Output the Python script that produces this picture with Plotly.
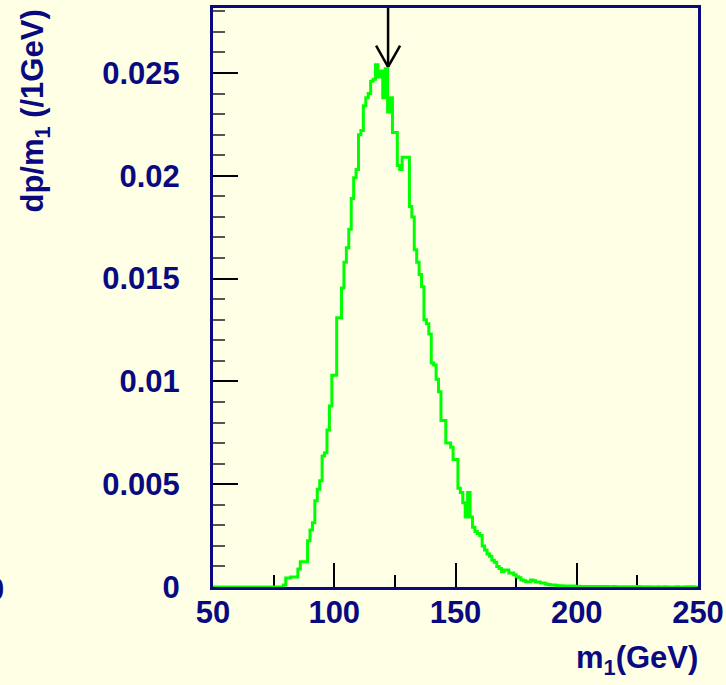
import plotly.graph_objects as go

# Mass histogram, 1 GeV bins from 50 to 250 GeV
bin_lo = 50
bin_width = 1
dp_dm = [
    # 50-59
    0, 0, 0, 0, 0, 0, 0, 0, 0, 0,
    # 60-69
    0, 0, 0, 0, 0, 0, 0, 0, 0, 0,
    # 70-79
    0, 0, 0, 0, 0, 0, 0, 0, 0, 0.0001,
    # 80-89
    0.00044, 0.00044, 0.00049, 0.00049, 0.00049, 0.00088, 0.00123, 0.00123, 0.00123, 0.00225,
    # 90-99
    0.00277, 0.00313, 0.0042, 0.00475, 0.00517, 0.00637, 0.00653, 0.00764, 0.0088, 0.0103,
    # 100-109
    0.0103, 0.0131, 0.0131, 0.01454, 0.0158, 0.0165, 0.0174, 0.0189, 0.0199, 0.0203,
    # 110-119
    0.0220, 0.0222, 0.0234, 0.0238, 0.0240, 0.0246, 0.0247, 0.0254, 0.0248, 0.0251,
    # 120-129
    0.0238, 0.0252, 0.0231, 0.0238, 0.0221, 0.0221, 0.0205, 0.0203, 0.0209, 0.0209,
    # 130-139
    0.0209, 0.0185, 0.0180, 0.0164, 0.0158, 0.0152, 0.0146, 0.0130, 0.0128, 0.0123,
    # 140-149
    0.0109, 0.0108, 0.0101, 0.0095, 0.0081, 0.0081, 0.0070, 0.0070, 0.0068, 0.0062,
    # 150-159
    0.0062, 0.0048, 0.0046, 0.0041, 0.0034, 0.0046, 0.0034, 0.0029, 0.0027, 0.0026,
    # 160-169
    0.0025, 0.0020, 0.0018, 0.0016, 0.0015, 0.0013, 0.0012, 0.0010, 0.0009, 0.00075,
    # 170-179
    0.00083, 0.00083, 0.00068, 0.00068, 0.0006, 0.0005, 0.00045, 0.00034, 0.0003, 0.00026,
    # 180-189
    0.00026, 0.00034, 0.0003, 0.00024, 0.00024, 0.0002, 0.0002, 0.00015, 0.00012, 0.0001,
    # 190-199
    0.0001, 0.00008, 0.00005, 0.00006, 0.00005, 0.00004, 0.00005, 0.00004, 0.00005, 0.00003,
    # 200-209
    0.00004, 0.00003, 0.00003, 0.00002, 0.00003, 0.00002, 0.00002, 0.00003, 0.00002, 0.00001,
    # 210-219
    0.00002, 0.00001, 0.00002, 0.00001, 0.00001, 0.00002, 0.00001, 0.00001, 0.00001, 0.00001,
    # 220-229
    0.00001, 0, 0.00001, 0.00001, 0, 0.00003, 0.00001, 0, 0.00001, 0,
    # 230-239
    0.00001, 0, 0, 0.00001, 0, 0, 0.00001, 0, 0, 0,
    # 240-249
    0, 0.00001, 0, 0, 0, 0.00001, 0, 0.00001, 0, 0,
]

x_ticks = [50, 100, 150, 200, 250]
y_ticks = [0, 0.005, 0.01, 0.015, 0.02, 0.025]
y_tick_text = ["0", "0.005", "0.01", "0.015", "0.02", "0.025"]

x_range = [50, 250]
y_range = [0, 0.02816]

# marker arrow pointing at the peak
arrow_x = 122.2
arrow_tip_y = 0.0253
arrow_wing_y = 0.02633
arrow_wing_dx = 4.95

BG = "#FFFFE6"
NAVY = "#0A0A80"
FONT = "Liberation Sans, Arial, Helvetica, sans-serif"

edges = [bin_lo + i * bin_width for i in range(len(dp_dm) + 1)]
step_y = dp_dm + [dp_dm[-1]]

fig = go.Figure()
fig.add_trace(go.Scatter(
    x=edges, y=step_y, mode="lines", line_shape="hv",
    line=dict(color="#00FF00", width=3), showlegend=False, hoverinfo="skip",
))

for x0, y0, x1, y1 in [
    (arrow_x, y_range[1], arrow_x, arrow_tip_y),
    (arrow_x - arrow_wing_dx, arrow_wing_y, arrow_x, arrow_tip_y),
    (arrow_x + arrow_wing_dx, arrow_wing_y, arrow_x, arrow_tip_y),
]:
    fig.add_shape(type="line", xref="x", yref="y", x0=x0, y0=y0, x1=x1, y1=y1,
                  line=dict(color="black", width=2.5))

tick_font = dict(family=FONT, size=31, color=NAVY, weight="bold")

fig.update_xaxes(
    range=x_range, tickvals=x_ticks, ticks="inside", ticklen=24, tickwidth=1.5,
    tickcolor="black", showline=True, linecolor=NAVY, linewidth=3, mirror=True,
    showgrid=False, zeroline=False, tickfont=tick_font, ticklabelstandoff=-4,
    minor=dict(dtick=25, ticks="inside", ticklen=12, tickcolor="black", tickwidth=1.5),
    layer="below traces", automargin=False,
)
fig.update_yaxes(
    range=y_range, tickvals=y_ticks, ticktext=y_tick_text, ticks="inside",
    ticklen=25, tickwidth=1.5, tickcolor="black", showline=True, linecolor=NAVY,
    linewidth=3, mirror=True, showgrid=False, zeroline=False, tickfont=tick_font,
    ticklabelstandoff=24,
    minor=dict(dtick=0.001, ticks="inside", ticklen=12, tickcolor="#555555", tickwidth=1.5),
    layer="below traces", automargin=False,
)

title_font = dict(family=FONT, size=31, color=NAVY, weight="bold")
fig.add_annotation(
    text="dp/m<sub>1</sub> (/1GeV)", textangle=-90, xref="paper", yref="paper",
    x=-0.366, y=0.822, xanchor="center", yanchor="middle", showarrow=False,
    font=title_font,
)
fig.add_annotation(
    text="m<sub>1</sub>(GeV)", xref="paper", yref="paper",
    x=1.004, y=-0.126, xanchor="right", yanchor="middle", showarrow=False,
    font=title_font,
)
fig.add_annotation(
    text="0", xref="paper", yref="paper", x=-0.4268, y=-0.005,
    xanchor="right", yanchor="middle", showarrow=False, font=tick_font,
)

fig.update_layout(
    width=726, height=685, margin=dict(l=213, r=28, t=8, b=98),
    paper_bgcolor=BG, plot_bgcolor=BG, showlegend=False,
)

fig.write_html("out.html")
